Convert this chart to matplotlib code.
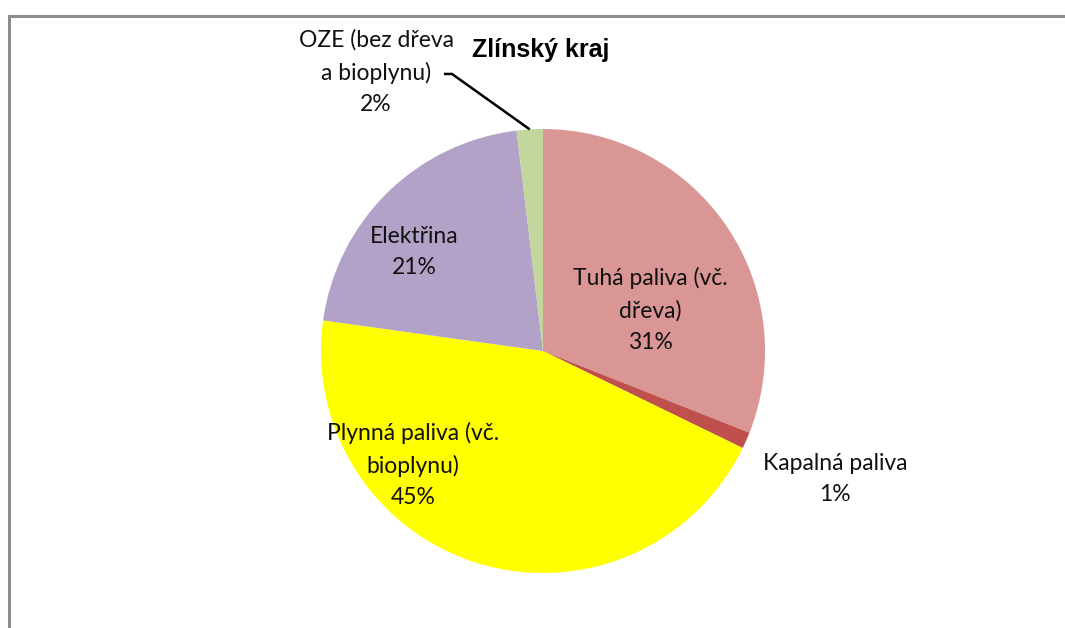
import numpy as np
import matplotlib.pyplot as plt
from matplotlib.patches import Rectangle

# data (shares in %)
categories = ['Tuhá paliva (vč.\ndřeva)', 'Kapalná paliva', 'Plynná paliva (vč.\nbioplynu)',
              'Elektřina', 'OZE (bez dřeva\na bioplynu)']
shares = [31.0, 1.2, 45.0, 20.9, 1.9]
pct_labels = ['31%', '1%', '45%', '21%', '2%']
colors = ['#D99694', '#C0504D', '#FFFF00', '#B3A2C7', '#C3D69B']

W, H = 1065, 628
fig = plt.figure(figsize=(W / 100, H / 100), dpi=100)

# gray frame of the chart area (cut at right and bottom)
fig.patches.append(Rectangle((8.5 / W, -0.1), 1.2, 1.1 - 15.5 / H, transform=fig.transFigure,
                             fill=False, edgecolor='#8C8C8C', linewidth=2.2))

cx, cy, r = 543, 351, 222
ax = fig.add_axes([(cx - r) / W, (H - cy - r) / H, 2 * r / W, 2 * r / H])
ax.pie(shares, colors=colors, startangle=90, counterclock=False, radius=1,
       wedgeprops=dict(linewidth=0))
ax.set_xlim(-1, 1)
ax.set_ylim(-1, 1)
ax.set_aspect('equal')
ax.axis('off')

font = dict(family=['Lato', 'DejaVu Sans'], fontsize=16.5, color='#111111',
            ha='center', va='center', linespacing=1.6)

# label positions (data units of the pie axes)
label_pos = [(0.482, 0.185), (1.315, -0.577), (-0.586, -0.514), (-0.581, 0.446), (-0.752, 1.257)]
for cat, pct, (x, y) in zip(categories, pct_labels, label_pos):
    ax.text(x, y, cat + '\n' + pct, clip_on=False, **font)

# leader line for the small OZE slice
cum = np.cumsum(shares)
mid = (cum[-1] - shares[-1] / 2) / 100 * 360
ang = np.deg2rad(90 - mid)
ex, ey = np.cos(ang), np.sin(ang)
ax.plot([-0.446, -0.410, ex], [1.248, 1.248, ey], color='black', lw=1.8,
        clip_on=False, solid_capstyle='butt')

ax.text(-0.009, 1.356, 'Zlínský kraj', family='Liberation Sans', fontweight='bold',
        fontsize=18, ha='center', va='center', clip_on=False)

fig.savefig('out.png', dpi=100)
